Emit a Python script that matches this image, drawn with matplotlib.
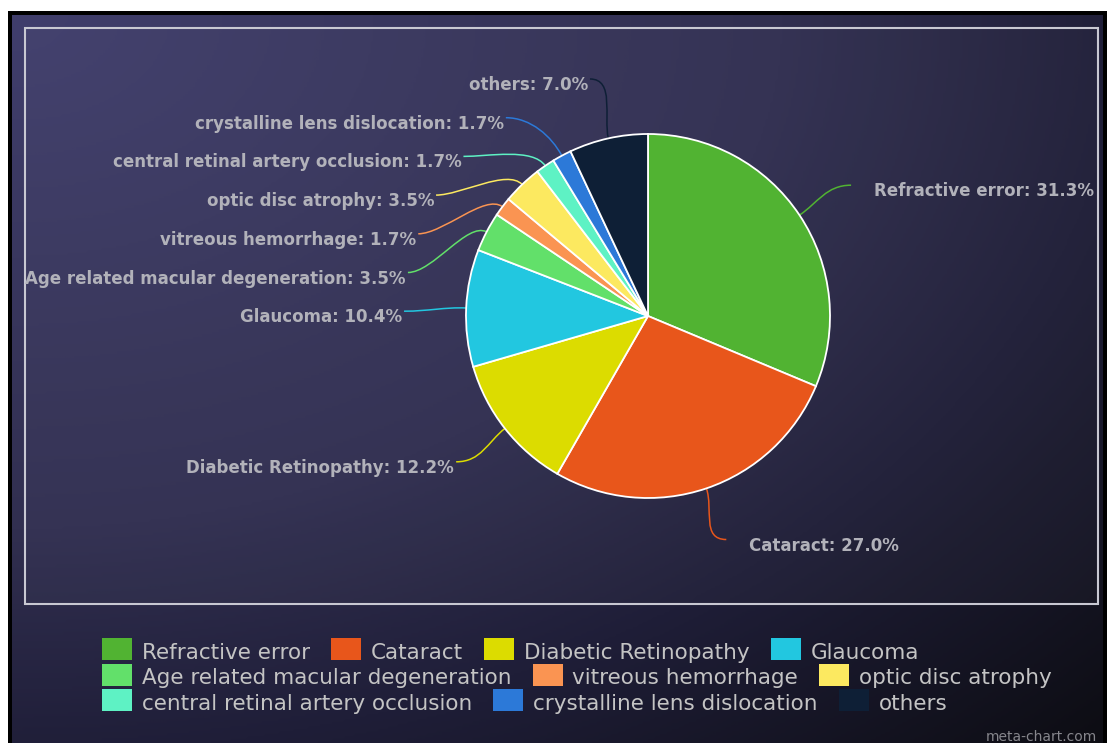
import numpy as np
import matplotlib
matplotlib.use("Agg")
import matplotlib.pyplot as plt
from matplotlib.colors import LinearSegmentedColormap
from matplotlib.patches import Rectangle, PathPatch
from matplotlib.path import Path

# share of cases per diagnosis (%)
diagnoses = ["Refractive error", "Cataract", "Diabetic Retinopathy", "Glaucoma",
             "Age related macular degeneration", "vitreous hemorrhage",
             "optic disc atrophy", "central retinal artery occlusion",
             "crystalline lens dislocation", "others"]
shares = [31.3, 27.0, 12.2, 10.4, 3.5, 1.7, 3.5, 1.7, 1.7, 7.0]
colors = ["#51b332", "#e8561b", "#dcdc00", "#22c7e0", "#62e06a", "#fa9452",
          "#fce960", "#5ef2c4", "#2c79d8", "#0e1f36"]
legend_rows = [[0, 1, 2, 3], [4, 5, 6], [7, 8, 9]]

W, H = 1107, 743
cx, cy, r = 648, 316, 182   # pie centre and radius, px from the top-left corner
label_r = 244               # leader lines end on this ring
anchor_r = 236              # ring used for the starting label height
row_gap = 38.7              # min vertical distance between labels


def up(y):
    return H - y


fig = plt.figure(figsize=(W / 100, H / 100), dpi=100)
fig.patch.set_facecolor("white")
ax = fig.add_axes([0, 0, 1, 1])

# black frame and diagonal gradient background
ax.add_patch(Rectangle((8, 0), W - 8, H - 11, facecolor="black", edgecolor="none", zorder=0))
gy, gx = np.mgrid[0:1:300j, 0:1:450j]
t = np.clip(np.hypot(gx, gy) / np.sqrt(2), 0, 1)
bg = LinearSegmentedColormap.from_list(
    "bg", [(0, "#403e6c"), (0.5, "#312f50"), (0.72, "#1f1e38"), (1, "#0d0d13")])
ax.imshow(t, cmap=bg, extent=(12, W - 4, 0, H - 15), origin="upper",
          interpolation="bilinear", aspect="auto", zorder=1)
ax.add_patch(Rectangle((25, up(604)), 1098 - 25, 604 - 28, facecolor=(1, 1, 1, 0.025),
                       edgecolor="#c8c8d2", linewidth=1.5, zorder=2))

ax.pie(shares, colors=colors, startangle=90, counterclock=False,
       center=(cx, up(cy)), radius=r, frame=True,
       wedgeprops=dict(edgecolor="white", linewidth=1.3, zorder=4))

ax.set_xlim(0, W)
ax.set_ylim(0, H)
ax.set_aspect("auto")
ax.axis("off")

# label placement: start next to the slice, then push apart so they don't overlap
ends = np.cumsum(shares) * 3.6
mids = np.radians(ends - np.array(shares) * 1.8)
nat_y = cy - anchor_r * np.cos(mids)
left = np.sin(mids) < 0


def spread(idx, top):
    blocks = []
    for i in sorted(idx, key=lambda j: nat_y[j]):
        blocks.append([[i], max(nat_y[i], top)])
        while len(blocks) > 1:
            a, b = blocks[-2], blocks[-1]
            if a[1] + len(a[0]) * row_gap <= b[1]:
                break
            ids = a[0] + b[0]
            start = np.mean([nat_y[j] - k * row_gap for k, j in enumerate(ids)])
            blocks[-2:] = [[ids, max(start, top)]]
    pos = {}
    for ids, start in blocks:
        for k, j in enumerate(ids):
            pos[j] = start + k * row_gap
    return pos


top = cy - label_r + 7
label_y = spread([i for i in range(len(shares)) if left[i]], top)
label_y.update(spread([i for i in range(len(shares)) if not left[i]], top))

for i, m in enumerate(mids):
    ly = label_y[i]
    side = -1 if left[i] else 1
    if abs(ly - nat_y[i]) < 1:
        ex = cx + label_r * np.sin(m)          # label kept its own spot
    else:
        ex = cx + side * np.sqrt(max(label_r ** 2 - (ly - cy) ** 2, 0))
    sx, sy = cx + r * np.sin(m), cy - r * np.cos(m)
    bx, by = cx + (r + 22) * np.sin(m), cy - (r + 22) * np.cos(m)
    verts = [(sx, up(sy)), (bx, up(by)), (ex - side * 25, up(ly)), (ex, up(ly))]
    codes = [Path.MOVETO, Path.CURVE4, Path.CURVE4, Path.CURVE4]
    ax.add_patch(PathPatch(Path(verts, codes), facecolor="none", edgecolor=colors[i],
                           linewidth=1.1, zorder=3))
    pad = 2 if left[i] else 23
    ax.text(ex + side * pad, up(ly + 11), f"{diagnoses[i]}: {shares[i]:.1f}%",
            ha="right" if left[i] else "left", va="baseline", fontsize=12,
            fontweight="bold", color="#b2b2ba", family="DejaVu Sans", zorder=5)

# legend, laid out row by row
fig.canvas.draw()
renderer = fig.canvas.get_renderer()
box_mid = [649, 675, 700]
baselines = [659, 684.5, 710]
for row, ym, yb in zip(legend_rows, box_mid, baselines):
    x = 102
    for i in row:
        ax.add_patch(Rectangle((x, up(ym) - 11), 30, 22, facecolor=colors[i],
                               edgecolor="none", zorder=3))
        txt = ax.text(x + 40, up(yb), diagnoses[i], ha="left", va="baseline",
                      fontsize=15.5, color="#c4c4c4", family="DejaVu Sans", zorder=3)
        x += 40 + txt.get_window_extent(renderer).width + 21

ax.text(1097, up(737), "meta-chart.com", ha="right", va="center", fontsize=10,
        color="#86868c", family="DejaVu Sans", zorder=3)

fig.savefig("out.png", dpi=100)
